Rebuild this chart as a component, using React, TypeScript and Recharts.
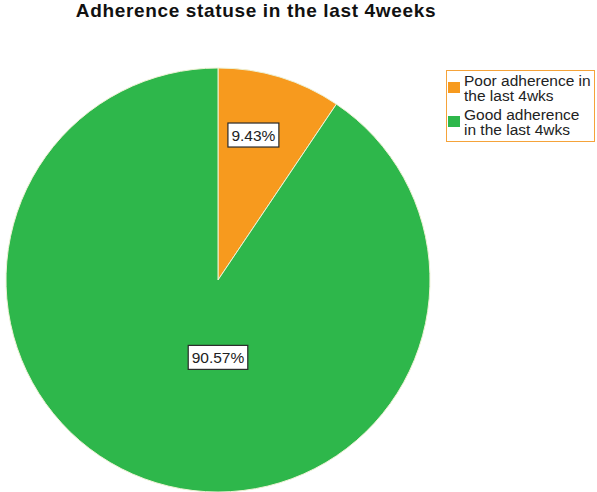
import React from 'react';
import { PieChart, Pie, Cell, Legend } from 'recharts';

const chartTitle = 'Adherence statuse in the last 4weeks';
const categories = ['Poor adherence in the last 4wks', 'Good adherence in the last 4wks'];
const percentages = [9.43, 90.57];
const sliceColors = ['#F79A1E', '#2EB74B'];

const data = categories.map((name, i) => ({ name, value: percentages[i] }));

const FONT = '"Liberation Sans", Arial, sans-serif';

const charW: Record<string, number> = {
  '0': 0.556, '1': 0.556, '2': 0.556, '3': 0.556, '4': 0.556,
  '5': 0.556, '6': 0.556, '7': 0.556, '8': 0.556, '9': 0.556,
  '.': 0.278, '%': 0.889,
};

const measure = (s: string, size: number) =>
  s.split('').reduce((a, c) => a + (charW[c] ?? 0.556), 0) * size;

const renderLabel = (props: any) => {
  const { cx, cy, midAngle, outerRadius, percent, index } = props;
  const RAD = Math.PI / 180;
  let x: number;
  let y: number;
  if (percent > 0.5) {
    x = cx;
    y = cy + outerRadius * 0.365;
  } else {
    const r = outerRadius * 0.715;
    x = cx + r * 0.8 * Math.cos(-midAngle * RAD);
    y = cy + r * Math.sin(-midAngle * RAD);
  }
  const text = `${percentages[index].toFixed(2)}%`;
  const fontSize = 15.5;
  const w = measure(text, fontSize) + 7;
  const h = 24;
  return (
    <g key={`lbl-${index}`}>
      <rect x={x - w / 2} y={y - h / 2} width={w} height={h} fill="#ffffff" stroke="#2a2a2a" strokeWidth={1.2} />
      <text
        x={x}
        y={y}
        textAnchor="middle"
        dominantBaseline="central"
        fontFamily={FONT}
        fontSize={fontSize}
        fill="#222"
      >
        {text}
      </text>
    </g>
  );
};

const renderLegend = (props: any) => {
  const payload = [...(props.payload || [])].sort(
    (a: any, b: any) => categories.indexOf(a.value) - categories.indexOf(b.value)
  );
  return (
    <div
      style={{
        boxSizing: 'border-box',
        width: 149,
        height: 72,
        border: '1px solid #F5A33A',
        paddingTop: 2,
        fontFamily: FONT,
        fontSize: 15.5,
        lineHeight: '15px',
        color: '#222',
        background: '#fff',
      }}
    >
      {payload.map((entry: any, i: number) => (
        <div key={i} style={{ position: 'relative', paddingLeft: 17, marginTop: i === 0 ? 0 : 4, width: 129 }}>
          <span
            style={{
              position: 'absolute',
              left: 1,
              top: 9,
              width: 12,
              height: 11,
              background: sliceColors[categories.indexOf(entry.value)] || entry.color,
            }}
          />
          {entry.value}
        </div>
      ))}
    </div>
  );
};

export default function App() {
  return (
    <div style={{ position: 'absolute', left: 0, top: 0, width: 597, height: 492, background: '#fff', overflow: 'hidden' }}>
      <div style={{ position: 'absolute', left: 0, top: 0 }}>
        <PieChart width={597} height={492} margin={{ top: 0, right: 0, bottom: 0, left: 0 }}>
          <Pie
            data={data}
            dataKey="value"
            nameKey="name"
            cx={218}
            cy={280}
            outerRadius={212}
            startAngle={90}
            endAngle={-270}
            stroke="#eef2d4"
            strokeWidth={1}
            label={renderLabel}
            labelLine={false}
            isAnimationActive={false}
          >
            {data.map((d, i) => (
              <Cell key={d.name} fill={sliceColors[i]} />
            ))}
          </Pie>
          <Legend
            layout="vertical"
            align="right"
            verticalAlign="top"
            content={renderLegend}
            wrapperStyle={{ left: 446, top: 70, width: 149, height: 72, right: 'auto' }}
          />
        </PieChart>
      </div>
      <div
        style={{
          position: 'absolute',
          left: 0,
          top: 1,
          width: 512,
          textAlign: 'center',
          fontFamily: FONT,
          fontWeight: 'bold',
          fontSize: 19,
          letterSpacing: '0.65px',
          lineHeight: '19px',
          color: '#111',
        }}
      >
        {chartTitle}
      </div>
    </div>
  );
}
